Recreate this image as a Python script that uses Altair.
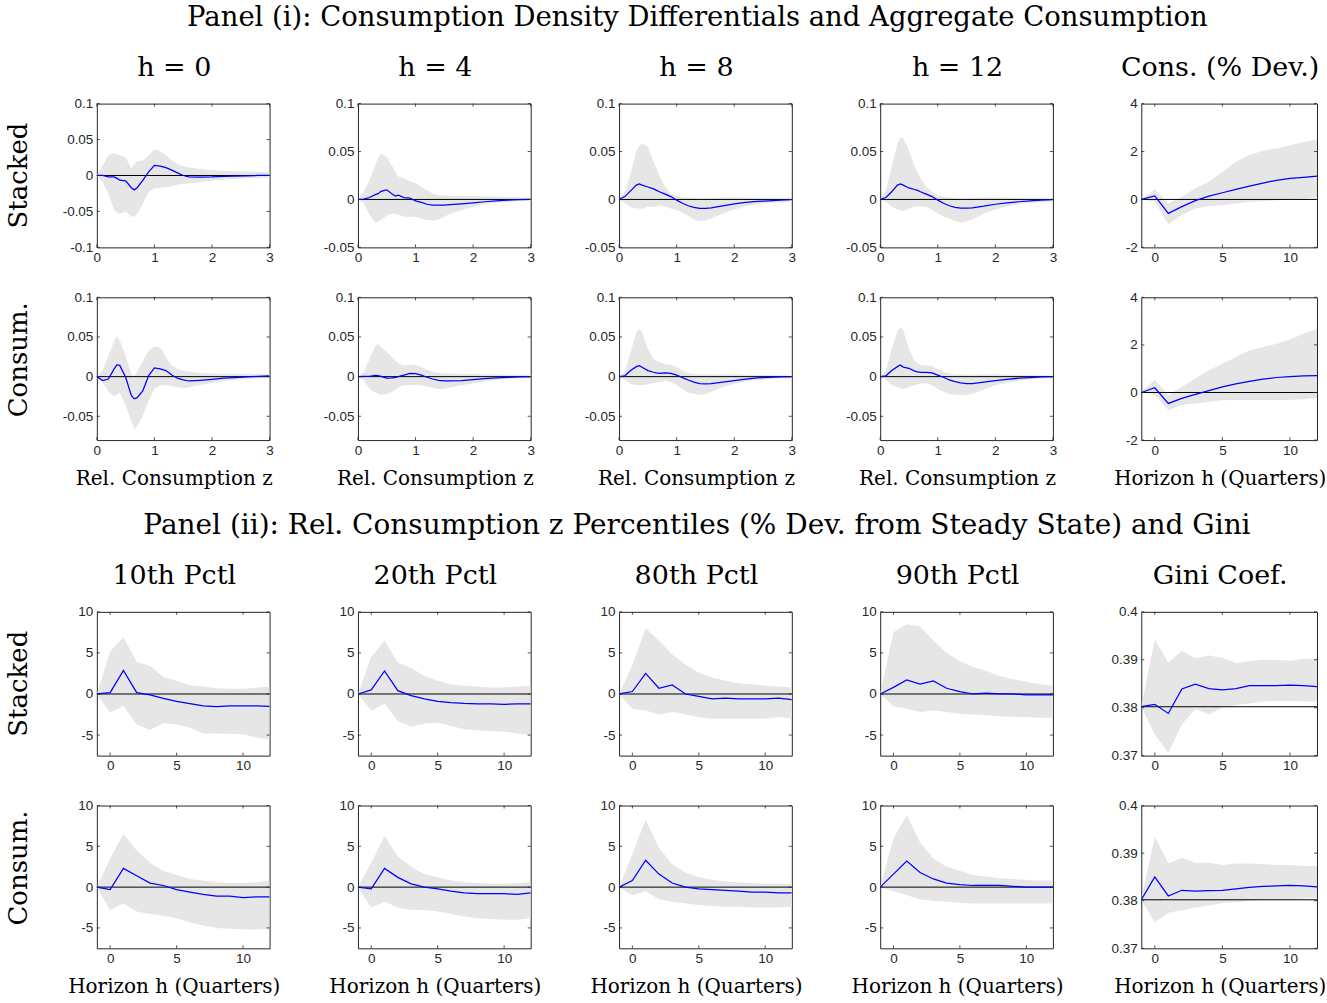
import altair as alt
import pandas as pd

SERIF = "DejaVu Serif"
SANS = "Liberation Sans"
INK = "#262626"
BAND = "#e6e6e6"
BLUE = "#0000ff"

# ---------------------------------------------------------------------------
# Panel (i): consumption density differentials on a relative-consumption grid
# ---------------------------------------------------------------------------
Z = [0.0, 0.1, 0.2, 0.3, 0.35, 0.4, 0.5, 0.6, 0.65, 0.7, 0.8, 0.9, 1.0,
     1.1, 1.2, 1.3, 1.4, 1.5, 1.6, 1.8, 2.0, 2.2, 2.4, 2.6, 2.8, 3.0]

# Stacked, h = 0
s0_mid = [0, 0.0, -0.002, -0.002, -0.004, -0.0065, -0.0075, -0.017, -0.020, -0.017, -0.0065, 0.005, 0.014,
          0.013, 0.011, 0.0074, 0.0037, 0.0, -0.002, -0.0022, -0.002, -0.0014, -0.001, -0.0005, 0.0, 0.0]
s0_hi = [0, 0.014, 0.028, 0.031, 0.030, 0.028, 0.025, 0.010, 0.016, 0.020, 0.021, 0.028, 0.036,
         0.034, 0.028, 0.021, 0.016, 0.013, 0.011, 0.009, 0.0074, 0.0065, 0.006, 0.0056, 0.0053, 0.005]
s0_lo = [0, -0.009, -0.025, -0.048, -0.052, -0.053, -0.050, -0.057, -0.057, -0.054, -0.039, -0.023, -0.018,
         -0.017, -0.016, -0.015, -0.013, -0.012, -0.011, -0.009, -0.0074, -0.006, -0.005, -0.004, -0.0035, -0.003]

# Stacked, h = 4
s4_mid = [0, 0.0003, 0.002, 0.005, 0.006, 0.0085, 0.010, 0.0055, 0.0035, 0.0045, 0.002, 0.0015, -0.0014,
          -0.003, -0.005, -0.006, -0.006, -0.006, -0.0055, -0.0045, -0.0035, -0.0024, -0.0014, -0.0007, -0.0003, 0.0]
s4_hi = [0, 0.008, 0.020, 0.036, 0.043, 0.048, 0.044, 0.034, 0.029, 0.024, 0.022, 0.019, 0.017,
         0.013, 0.0097, 0.006, 0.0045, 0.004, 0.0035, 0.0035, 0.0035, 0.003, 0.003, 0.0025, 0.002, 0.002]
s4_lo = [0, -0.004, -0.016, -0.024, -0.023, -0.0215, -0.017, -0.0146, -0.015, -0.016, -0.018, -0.018, -0.018,
         -0.020, -0.0215, -0.022, -0.021, -0.018, -0.015, -0.011, -0.0076, -0.005, -0.0035, -0.0024, -0.0018, -0.0014]

# Stacked, h = 8
s8_mid = [0, 0.003, 0.009, 0.015, 0.0163, 0.015, 0.013, 0.011, 0.0095, 0.008, 0.0055, 0.003, -0.0007,
          -0.004, -0.0066, -0.0083, -0.0094, -0.0094, -0.0087, -0.0066, -0.0045, -0.003, -0.002, -0.0014, -0.0007, -0.0003]
s8_hi = [0, 0.008, 0.027, 0.050, 0.056, 0.058, 0.055, 0.039, 0.032, 0.025, 0.013, 0.006, 0.0035,
         0.002, 0.0017, 0.0017, 0.001, 0.001, 0.0014, 0.002, 0.002, 0.0017, 0.0014, 0.001, 0.001, 0.0007]
s8_lo = [0, -0.0035, -0.008, -0.0094, -0.0095, -0.010, -0.0076, -0.008, -0.007, -0.006, -0.0076, -0.0094, -0.011,
         -0.014, -0.017, -0.021, -0.0226, -0.022, -0.020, -0.0146, -0.0104, -0.007, -0.005, -0.0035, -0.0028, -0.002]

# Stacked, h = 12
s12_mid = [0, 0.002, 0.008, 0.015, 0.0163, 0.015, 0.012, 0.0104, 0.0095, 0.008, 0.0055, 0.003, -0.0007,
           -0.004, -0.0066, -0.0083, -0.009, -0.009, -0.0087, -0.007, -0.005, -0.0035, -0.0024, -0.0014, -0.0007, -0.0003]
s12_hi = [0, 0.0097, 0.034, 0.058, 0.065, 0.0635, 0.051, 0.034, 0.028, 0.022, 0.013, 0.008, 0.0045,
          0.003, 0.002, 0.0017, 0.001, 0.001, 0.0014, 0.002, 0.002, 0.0017, 0.0014, 0.001, 0.001, 0.0007]
s12_lo = [0, -0.0024, -0.0076, -0.0104, -0.011, -0.0118, -0.0094, -0.0076, -0.007, -0.007, -0.008, -0.011, -0.0146,
          -0.018, -0.020, -0.0226, -0.024, -0.023, -0.021, -0.0146, -0.0104, -0.007, -0.005, -0.0035, -0.0028, -0.002]

# Consumption, h = 0
c0_mid = [0, -0.005, -0.003, 0.0097, 0.015, 0.0139, -0.0008, -0.024, -0.028, -0.0265, -0.0176, 0.0013, 0.011,
          0.0097, 0.0076, 0.002, -0.002, -0.004, -0.0055, -0.0046, -0.0034, -0.002, -0.0012, -0.0004, 0.0004, 0.0008]
c0_hi = [0, 0.0076, 0.026, 0.045, 0.051, 0.045, 0.026, 0.003, 0.001, 0.006, 0.020, 0.033, 0.038,
         0.037, 0.024, 0.014, 0.0097, 0.0076, 0.006, 0.0046, 0.004, 0.0036, 0.0034, 0.0034, 0.003, 0.003]
c0_lo = [0, -0.007, -0.019, -0.025, -0.023, -0.020, -0.0365, -0.0575, -0.066, -0.062, -0.049, -0.030, -0.0155,
         -0.011, -0.011, -0.012, -0.0134, -0.0147, -0.0134, -0.0105, -0.008, -0.0055, -0.0038, -0.003, -0.0025, -0.002]

# Consumption, h = 4
c4_mid = [0, 0.0004, 0.0004, 0.0017, 0.0012, 0.0004, -0.002, -0.0017, -0.001, 0.0, 0.002, 0.0042, 0.0038,
          0.002, -0.0008, -0.003, -0.0046, -0.0055, -0.0055, -0.005, -0.0038, -0.0025, -0.0017, -0.0008, -0.0004, 0.0]
c4_hi = [0, 0.0055, 0.022, 0.039, 0.041, 0.037, 0.031, 0.024, 0.020, 0.017, 0.014, 0.015, 0.0147,
         0.012, 0.0088, 0.006, 0.0046, 0.0038, 0.0038, 0.0034, 0.0034, 0.003, 0.003, 0.0025, 0.0025, 0.002]
c4_lo = [0, -0.005, -0.0155, -0.020, -0.022, -0.023, -0.022, -0.019, -0.016, -0.0134, -0.011, -0.0105, -0.0105,
         -0.011, -0.0126, -0.014, -0.0155, -0.0155, -0.014, -0.011, -0.0084, -0.006, -0.0042, -0.003, -0.0025, -0.002]

# Consumption, h = 8
c8_mid = [0, 0.001, 0.0076, 0.0126, 0.0139, 0.0118, 0.0076, 0.0055, 0.0048, 0.0042, 0.0046, 0.0042, 0.002,
          -0.0013, -0.0042, -0.007, -0.0088, -0.0092, -0.0088, -0.007, -0.005, -0.003, -0.0017, -0.0008, -0.0004, 0.0]
c8_hi = [0, 0.006, 0.031, 0.056, 0.061, 0.056, 0.035, 0.022, 0.020, 0.018, 0.016, 0.0147, 0.012,
         0.0076, 0.0046, 0.0034, 0.003, 0.003, 0.003, 0.003, 0.003, 0.0025, 0.002, 0.002, 0.0017, 0.0013]
c8_lo = [0, -0.004, -0.009, -0.0105, -0.011, -0.011, -0.0097, -0.008, -0.0075, -0.007, -0.005, -0.007, -0.0105,
         -0.0155, -0.020, -0.022, -0.023, -0.022, -0.019, -0.0134, -0.009, -0.006, -0.0042, -0.003, -0.0025, -0.002]

# Consumption, h = 12
c12_mid = [0, 0.001, 0.0076, 0.0126, 0.0147, 0.012, 0.0105, 0.007, 0.006, 0.0055, 0.0055, 0.0046, 0.002,
           -0.0008, -0.0042, -0.0063, -0.008, -0.0088, -0.0088, -0.007, -0.005, -0.0034, -0.002, -0.0012, -0.0004, 0.0]
c12_hi = [0, 0.0076, 0.035, 0.057, 0.062, 0.058, 0.035, 0.020, 0.017, 0.0147, 0.014, 0.013, 0.0097,
          0.006, 0.0038, 0.003, 0.003, 0.0025, 0.0025, 0.003, 0.003, 0.0025, 0.002, 0.002, 0.0017, 0.0013]
c12_lo = [0, -0.004, -0.011, -0.0134, -0.015, -0.0155, -0.0134, -0.0105, -0.0095, -0.009, -0.0084, -0.011, -0.0155,
          -0.019, -0.022, -0.023, -0.0235, -0.023, -0.022, -0.0164, -0.011, -0.008, -0.005, -0.0034, -0.0025, -0.002]

# ---------------------------------------------------------------------------
# Impulse responses over the horizon (quarters)
# ---------------------------------------------------------------------------
H = [-1, 0, 1, 2, 3, 4, 5, 6, 7, 8, 9, 10, 11, 12]

# Aggregate consumption (% deviation)
cs_mid = [0, 0.15, -0.58, -0.30, -0.05, 0.14, 0.28, 0.42, 0.56, 0.68, 0.80, 0.875, 0.92, 0.97]
cs_hi = [0, 0.42, -0.17, 0.11, 0.46, 0.74, 1.15, 1.57, 1.85, 2.03, 2.13, 2.26, 2.40, 2.50]
cs_lo = [0, -0.10, -1.03, -0.65, -0.375, -0.28, -0.24, -0.17, -0.10, -0.07, -0.03, 0.0, 0.03, 0.08]
cc_mid = [0, 0.20, -0.46, -0.25, -0.08, 0.08, 0.24, 0.36, 0.47, 0.56, 0.63, 0.67, 0.70, 0.71]
cc_hi = [0, 0.54, -0.11, 0.24, 0.59, 0.93, 1.21, 1.49, 1.77, 1.91, 2.05, 2.23, 2.47, 2.68]
cc_lo = [0, -0.11, -0.74, -0.53, -0.46, -0.39, -0.33, -0.32, -0.32, -0.32, -0.32, -0.32, -0.28, -0.22]

# Percentiles, stacked
p10s_mid = [0, 0.16, 2.87, 0.16, -0.12, -0.53, -0.90, -1.17, -1.46, -1.54, -1.46, -1.46, -1.46, -1.50]
p10s_hi = [0, 5.2, 6.9, 3.9, 3.4, 2.1, 1.6, 1.05, 0.9, 0.7, 0.65, 0.65, 0.77, 0.9]
p10s_lo = [0, -2.27, -1.46, -3.7, -4.37, -3.56, -3.7, -4.1, -4.8, -4.8, -4.85, -4.9, -5.3, -5.5]
p20s_mid = [0, 0.5, 2.8, 0.4, -0.2, -0.6, -0.9, -1.05, -1.15, -1.2, -1.2, -1.25, -1.2, -1.2]
p20s_hi = [0, 4.5, 6.5, 3.8, 3.2, 2.2, 1.6, 1.2, 1.0, 0.9, 0.8, 0.8, 0.9, 1.0]
p20s_lo = [0, -2.0, -1.2, -3.3, -4.0, -3.6, -3.5, -3.9, -4.3, -4.4, -4.5, -4.6, -4.8, -5.0]
p80s_mid = [0, 0.3, 2.5, 0.7, 1.1, 0.0, -0.3, -0.6, -0.5, -0.6, -0.6, -0.6, -0.5, -0.7]
p80s_hi = [0, 3.5, 8.0, 6.5, 4.8, 3.6, 2.6, 2.0, 1.6, 1.3, 1.2, 1.0, 0.9, 0.8]
p80s_lo = [0, -1.8, -2.0, -2.5, -2.2, -2.5, -2.8, -3.0, -3.0, -3.0, -3.0, -3.0, -2.8, -3.0]
p90s_mid = [0, 0.8, 1.7, 1.2, 1.6, 0.7, 0.3, 0.0, 0.1, 0.0, 0.0, -0.1, -0.1, -0.1]
p90s_hi = [0, 7.5, 8.5, 8.2, 6.5, 5.0, 4.0, 3.3, 2.8, 2.2, 1.8, 1.5, 1.2, 1.0]
p90s_lo = [0, -1.5, -1.8, -2.2, -2.0, -2.2, -2.4, -2.5, -2.6, -2.7, -2.8, -2.8, -2.9, -2.9]

# Percentiles, consumption
p10c_mid = [0, -0.3, 2.3, 1.4, 0.5, 0.2, -0.3, -0.6, -0.9, -1.1, -1.1, -1.3, -1.2, -1.2]
p10c_hi = [0, 3.5, 6.5, 4.5, 3.0, 2.0, 1.5, 1.0, 0.8, 0.6, 0.5, 0.5, 0.6, 0.8]
p10c_lo = [0, -2.8, -2.0, -3.0, -3.3, -3.5, -3.8, -4.3, -4.7, -5.0, -5.1, -5.2, -5.2, -5.1]
p20c_mid = [0, -0.2, 2.3, 1.2, 0.4, 0.0, -0.2, -0.5, -0.7, -0.8, -0.8, -0.8, -0.9, -0.7]
p20c_hi = [0, 3.0, 6.3, 3.8, 2.5, 1.6, 1.2, 0.8, 0.6, 0.5, 0.4, 0.4, 0.5, 0.6]
p20c_lo = [0, -2.5, -1.8, -2.5, -2.8, -2.8, -3.0, -3.3, -3.6, -3.8, -3.9, -4.0, -4.0, -3.8]
p80c_mid = [0, 0.8, 3.3, 1.6, 0.5, 0.0, -0.2, -0.3, -0.4, -0.5, -0.6, -0.6, -0.7, -0.7]
p80c_hi = [0, 4.0, 8.3, 4.8, 2.8, 1.8, 1.2, 0.9, 0.7, 0.6, 0.5, 0.4, 0.4, 0.4]
p80c_lo = [0, -1.0, -0.5, -1.5, -1.8, -2.0, -2.2, -2.3, -2.4, -2.4, -2.5, -2.5, -2.5, -2.4]
p90c_mid = [0, 1.6, 3.2, 1.8, 1.0, 0.5, 0.3, 0.2, 0.2, 0.2, 0.1, 0.0, 0.0, 0.0]
p90c_hi = [0, 6.0, 8.8, 5.5, 3.5, 2.5, 2.0, 1.5, 1.3, 1.1, 1.0, 0.9, 0.8, 0.8]
p90c_lo = [0, -0.5, -1.0, -1.5, -1.7, -1.8, -1.9, -2.0, -2.0, -2.0, -2.0, -2.0, -2.0, -2.0]

# Gini coefficient (level) and its steady-state value
GINI_SS = 0.3802
gs_mid = [0.3802, 0.3807, 0.3788, 0.3839, 0.3849, 0.3840, 0.3837, 0.3840, 0.3846, 0.3846, 0.3846, 0.3847, 0.3846, 0.3844]
gs_hi = [0.3802, 0.3943, 0.3894, 0.3919, 0.3903, 0.3909, 0.3904, 0.3893, 0.3897, 0.3900, 0.3900, 0.3898, 0.3902, 0.3902]
gs_lo = [0.3802, 0.3744, 0.3706, 0.3765, 0.3797, 0.3786, 0.3800, 0.3805, 0.3809, 0.3813, 0.3814, 0.3814, 0.3813, 0.3813]
gc_mid = [0.3802, 0.3850, 0.3810, 0.3822, 0.3820, 0.3821, 0.3822, 0.3825, 0.3828, 0.3830, 0.3831, 0.3832, 0.3831, 0.3829]
gc_hi = [0.3802, 0.3935, 0.3878, 0.3890, 0.3880, 0.3880, 0.3875, 0.3878, 0.3878, 0.3877, 0.3875, 0.3875, 0.3873, 0.3873]
gc_lo = [0.3802, 0.3755, 0.3775, 0.3780, 0.3785, 0.3790, 0.3795, 0.3797, 0.3800, 0.3802, 0.3803, 0.3803, 0.3805, 0.3805]

# ---------------------------------------------------------------------------
# Layout
# ---------------------------------------------------------------------------
COL_W = [173, 173, 173, 173, 176]
ROW_H = [144, 143, 144, 143]
TITLE_SIZE = 27
ROW_SIZE = 26
LABEL_SIZE = 20
TICK_LEN = 3


def text_layer(text, x, y, size, angle=0, baseline="middle"):
    return alt.Chart(pd.DataFrame({"t": [text]})).mark_text(
        font=SERIF, fontSize=size, color="black", align="center",
        baseline=baseline, angle=angle,
    ).encode(text="t:N", x=alt.value(x), y=alt.value(y))


def panel(xs, mid, lo, hi, xdom, xticks, ydom, yticks, base, w, h,
          title=None, xlabel=None, rowlabel=None, rowshift=0):
    df = pd.DataFrame({"x": xs, "mid": mid, "lo": lo, "hi": hi})
    xsc = alt.Scale(domain=xdom, nice=False, zero=False)
    ysc = alt.Scale(domain=ydom, nice=False, zero=False)
    xax = alt.Axis(values=xticks, title=None, grid=False, ticks=False, domain=False,
                   labelFlush=False, labelOverlap=False, labelPadding=3,
                   labelExpr="'' + datum.value")
    yax = alt.Axis(values=yticks, title=None, grid=False, ticks=False, domain=False,
                   labelFlush=False, labelOverlap=False, labelPadding=4,
                   labelExpr="'' + datum.value")
    xenc = alt.X("x:Q", scale=xsc, axis=xax)
    band = alt.Chart(df).mark_area(color=BAND, clip=True).encode(
        x=xenc, y=alt.Y("lo:Q", scale=ysc, axis=yax), y2="hi:Q")
    ref = alt.Chart(pd.DataFrame({"b": [base]})).mark_rule(
        color="black", strokeWidth=1).encode(y=alt.Y("b:Q", scale=ysc, axis=yax))
    line = alt.Chart(df).mark_line(color=BLUE, strokeWidth=1.25, clip=True).encode(
        x=xenc, y=alt.Y("mid:Q", scale=ysc, axis=yax))

    # inward tick marks on all four sides of the box
    ytk = alt.Chart(pd.DataFrame({"v": yticks}))
    xtk = alt.Chart(pd.DataFrame({"v": xticks}))
    tick_style = dict(color=INK, strokeWidth=0.8)
    ticks = [
        ytk.mark_rule(**tick_style).encode(
            y=alt.Y("v:Q", scale=ysc, axis=yax), x=alt.value(0), x2=alt.value(TICK_LEN)),
        ytk.mark_rule(**tick_style).encode(
            y=alt.Y("v:Q", scale=ysc, axis=yax), x=alt.value(w - TICK_LEN), x2=alt.value(w)),
        xtk.mark_rule(**tick_style).encode(
            x=alt.X("v:Q", scale=xsc, axis=xax), y=alt.value(h - TICK_LEN), y2=alt.value(h)),
        xtk.mark_rule(**tick_style).encode(
            x=alt.X("v:Q", scale=xsc, axis=xax), y=alt.value(0), y2=alt.value(TICK_LEN)),
    ]

    layers = [band, ref, line] + ticks
    if title:
        layers.append(text_layer(title, w / 2 - 9, -36, TITLE_SIZE))
    if xlabel:
        layers.append(text_layer(xlabel, w / 2 - 9, h + 39, LABEL_SIZE))
    if rowlabel:
        layers.append(text_layer(rowlabel, -70, h / 2 - rowshift, ROW_SIZE,
                                 angle=270, baseline="alphabetic"))
    return alt.layer(*layers).properties(width=w, height=h)


def spacer(w, h, text="", x=None, y=None, size=27.5):
    # an empty cell keeps its (blank) text in the middle so it adds no extent
    x = w / 2 if x is None else x
    y = h / 2 if y is None else y
    return alt.Chart(pd.DataFrame({"t": [text]})).mark_text(
        font=SERIF, fontSize=size, color="black", align="center", baseline="middle",
    ).encode(text="t:N", x=alt.value(x), y=alt.value(y)).properties(
        width=w, height=h, view=alt.ViewBackground(strokeOpacity=0))


DENS_X = [0, 3]
DENS_XT = [0, 1, 2, 3]
HOR_X = [-1, 12]
HOR_XT = [0, 5, 10]
PCT_Y = [-7.5, 10]
PCT_YT = [-5, 0, 5, 10]
CONS_Y = [-2, 4]
CONS_YT = [-2, 0, 2, 4]
GINI_Y = [0.37, 0.4]
GINI_YT = [0.37, 0.38, 0.39, 0.4]
XL_Z = "Rel. Consumption z"
XL_H = "Horizon h (Quarters)"

cells = []

# heading row for panel (i)
for j, w in enumerate(COL_W):
    if j == 2:
        cells.append(spacer(w, 53, "Panel (i): Consumption Density Differentials and Aggregate Consumption",
                            78.5, 17, 27.5))
    else:
        cells.append(spacer(w, 53))

h1 = ROW_H[0]
cells += [
    panel(Z, s0_mid, s0_lo, s0_hi, DENS_X, DENS_XT, [-0.1, 0.1], [-0.1, -0.05, 0, 0.05, 0.1], 0,
          COL_W[0], h1, title="h = 0", rowlabel="Stacked"),
    panel(Z, s4_mid, s4_lo, s4_hi, DENS_X, DENS_XT, [-0.05, 0.1], [-0.05, 0, 0.05, 0.1], 0,
          COL_W[1], h1, title="h = 4"),
    panel(Z, s8_mid, s8_lo, s8_hi, DENS_X, DENS_XT, [-0.05, 0.1], [-0.05, 0, 0.05, 0.1], 0,
          COL_W[2], h1, title="h = 8"),
    panel(Z, s12_mid, s12_lo, s12_hi, DENS_X, DENS_XT, [-0.05, 0.1], [-0.05, 0, 0.05, 0.1], 0,
          COL_W[3], h1, title="h = 12"),
    panel(H, cs_mid, cs_lo, cs_hi, HOR_X, HOR_XT, CONS_Y, CONS_YT, 0,
          COL_W[4], h1, title="Cons. (% Dev.)"),
]

h2 = ROW_H[1]
cells += [
    panel(Z, c0_mid, c0_lo, c0_hi, DENS_X, DENS_XT, [-0.08, 0.1], [-0.05, 0, 0.05, 0.1], 0,
          COL_W[0], h2, xlabel=XL_Z, rowlabel="Consum.", rowshift=9),
    panel(Z, c4_mid, c4_lo, c4_hi, DENS_X, DENS_XT, [-0.08, 0.1], [-0.05, 0, 0.05, 0.1], 0,
          COL_W[1], h2, xlabel=XL_Z),
    panel(Z, c8_mid, c8_lo, c8_hi, DENS_X, DENS_XT, [-0.08, 0.1], [-0.05, 0, 0.05, 0.1], 0,
          COL_W[2], h2, xlabel=XL_Z),
    panel(Z, c12_mid, c12_lo, c12_hi, DENS_X, DENS_XT, [-0.08, 0.1], [-0.05, 0, 0.05, 0.1], 0,
          COL_W[3], h2, xlabel=XL_Z),
    panel(H, cc_mid, cc_lo, cc_hi, HOR_X, HOR_XT, CONS_Y, CONS_YT, 0,
          COL_W[4], h2, xlabel=XL_H),
]

# gap row carrying the panel (ii) heading
for j, w in enumerate(COL_W):
    if j == 2:
        cells.append(spacer(w, 72, "Panel (ii): Rel. Consumption z Percentiles (% Dev. from Steady State) and Gini",
                            78, 36, 28))
    else:
        cells.append(spacer(w, 72))

h3 = ROW_H[2]
cells += [
    panel(H, p10s_mid, p10s_lo, p10s_hi, HOR_X, HOR_XT, PCT_Y, PCT_YT, 0,
          COL_W[0], h3, title="10th Pctl", rowlabel="Stacked"),
    panel(H, p20s_mid, p20s_lo, p20s_hi, HOR_X, HOR_XT, PCT_Y, PCT_YT, 0,
          COL_W[1], h3, title="20th Pctl"),
    panel(H, p80s_mid, p80s_lo, p80s_hi, HOR_X, HOR_XT, PCT_Y, PCT_YT, 0,
          COL_W[2], h3, title="80th Pctl"),
    panel(H, p90s_mid, p90s_lo, p90s_hi, HOR_X, HOR_XT, PCT_Y, PCT_YT, 0,
          COL_W[3], h3, title="90th Pctl"),
    panel(H, gs_mid, gs_lo, gs_hi, HOR_X, HOR_XT, GINI_Y, GINI_YT, GINI_SS,
          COL_W[4], h3, title="Gini Coef."),
]

h4 = ROW_H[3]
cells += [
    panel(H, p10c_mid, p10c_lo, p10c_hi, HOR_X, HOR_XT, PCT_Y, PCT_YT, 0,
          COL_W[0], h4, xlabel=XL_H, rowlabel="Consum.", rowshift=9),
    panel(H, p20c_mid, p20c_lo, p20c_hi, HOR_X, HOR_XT, PCT_Y, PCT_YT, 0,
          COL_W[1], h4, xlabel=XL_H),
    panel(H, p80c_mid, p80c_lo, p80c_hi, HOR_X, HOR_XT, PCT_Y, PCT_YT, 0,
          COL_W[2], h4, xlabel=XL_H),
    panel(H, p90c_mid, p90c_lo, p90c_hi, HOR_X, HOR_XT, PCT_Y, PCT_YT, 0,
          COL_W[3], h4, xlabel=XL_H),
    panel(H, gc_mid, gc_lo, gc_hi, HOR_X, HOR_XT, GINI_Y, GINI_YT, GINI_SS,
          COL_W[4], h4, xlabel=XL_H),
]

chart = alt.concat(
    *cells, columns=5, spacing={"row": 50, "column": 88.5}, bounds="flush", align="each",
).properties(
    padding={"left": 5, "top": 0, "right": 0, "bottom": 0}, background="white",
).configure_view(
    stroke=INK, strokeWidth=1,
).configure_axis(
    labelFont=SANS, labelFontSize=13.5, labelColor=INK,
)

chart.save("out.html", embed_options={"renderer": "svg", "actions": False})
